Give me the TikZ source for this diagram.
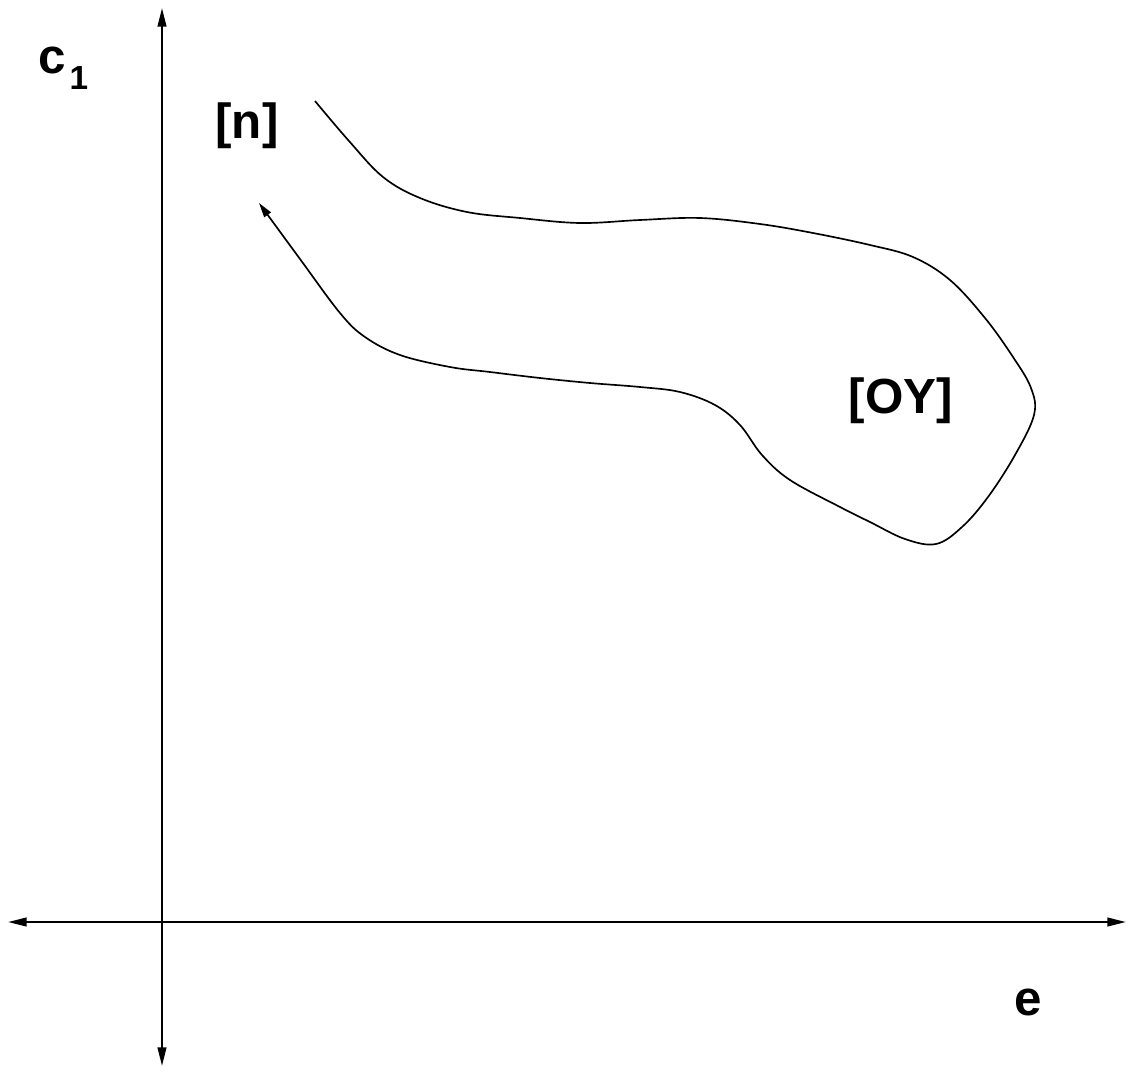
\documentclass[tikz,border=0pt]{standalone}
\usepackage{fontspec}
\setmainfont{Liberation Sans}
\usetikzlibrary{arrows.meta}
\begin{document}
\begin{tikzpicture}[x=0.75pt,y=-0.75pt,
  axis/.style={line width=1.5pt,{Triangle[length=14pt,width=6.5pt]}-{Triangle[length=14pt,width=6.5pt]}},
  flow/.style={line width=1.25pt,-{Triangle[length=11pt,width=6pt]}},
  lbl/.style={inner sep=0pt,anchor=base,font=\fontsize{37pt}{40pt}\selectfont\bfseries},
  sub/.style={inner sep=0pt,anchor=base,font=\fontsize{25pt}{28pt}\selectfont\bfseries}]
\useasboundingbox (0,0) rectangle (1133,1075);
\coordinate (ytop) at (162,8);
\coordinate (ybot) at (162,1066);
\coordinate (xl) at (8,922);
\coordinate (xr) at (1126,922);
\draw[axis] (ybot) -- (ytop);
\draw[axis] (xl) -- (xr);
\node[lbl] (c) at (52.5,73) {c};
\node[sub] (one) at (79,89) {1};
\node[lbl] (n) at (247,138) {[n]};
\node[lbl] (oy) at (901,413) {[OY]};
\node[lbl] (e) at (1028,1015) {e};
\draw[flow] plot[smooth,tension=0.6] coordinates {
 (315,101) (349,141) (383,177) (420,198) (467,212) (520,218) (580,223)
 (640,220) (700,218) (760,224) (813,233) (870,245) (913,257) (950,280)
 (985,318) (1013,357) (1031,388) (1034,415) (1015,455) (988,497) (962,527)
 (936,544) (905,539) (870,522) (840,507) (790,480) (762,455) (740,425) (715,405)
 (680,392) (640,387) (590,383) (540,378) (490,372) (450,367) (400,355)
 (365,337) (340,313) (300,259) (259,203)};
\end{tikzpicture}
\end{document}
